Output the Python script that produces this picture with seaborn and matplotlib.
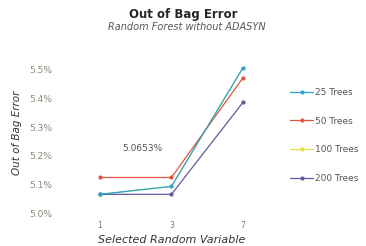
import pandas as pd
import matplotlib.pyplot as plt
import seaborn as sns
from matplotlib.ticker import FuncFormatter

# selected random variable (mtry) and OOB error (%) per forest size
variables = ['1', '3', '7']
trees_25 = [5.0653, 5.093, 5.507]
trees_50 = [5.124, 5.124, 5.472]
trees_100 = [5.0653, 5.093, 5.507]
trees_200 = [5.0653, 5.0653, 5.386]
series = ['25 Trees', '50 Trees', '100 Trees', '200 Trees']
colors = ['#2ba3d6', '#e0553c', '#e4df3c', '#5f5b9e']

rows = []
for name, vals in zip(series, [trees_25, trees_50, trees_100, trees_200]):
    for v, e in zip(variables, vals):
        rows.append({'Variable': v, 'Error': e, 'Trees': name})
df = pd.DataFrame(rows)

sns.set_style('white')
plt.rcParams['font.family'] = ['DejaVu Sans']

fig = plt.figure(figsize=(3.66, 2.46), dpi=100)
ax = fig.add_axes([0.234, 0.134, 0.469, 0.606])

sns.lineplot(data=df, x='Variable', y='Error', hue='Trees', hue_order=series,
             palette=colors, marker='o', markersize=3, markeredgewidth=0,
             linewidth=0.9, sort=False, ax=ax)

# 25 trees on top, the hidden 100 trees line underneath
for line, z in zip(ax.get_lines()[:4], [5, 4, 2, 3]):
    line.set_zorder(z)

ax.set_xlim(-0.2, 2.2)
ax.set_ylim(5.0, 5.52)
ax.set_yticks([5.0, 5.1, 5.2, 5.3, 5.4, 5.5])
ax.yaxis.set_major_formatter(FuncFormatter(lambda v, p: f'{v:.1f}%'))
ax.tick_params(axis='y', pad=24, labelsize=6.5, colors='#8a8a7a', length=0)
ax.tick_params(axis='x', pad=6, labelsize=5.5, colors='#777777', length=0)
for s in ax.spines.values():
    s.set_visible(False)

ax.set_xlabel('Selected Random Variable', fontsize=8, style='italic', color='#333333', labelpad=3)
ax.set_ylabel('Out of Bag Error', fontsize=7.5, style='italic', color='#333333')
ax.yaxis.set_label_coords(-0.37, 0.54)

ax.text(0.6, 5.225, '5.0653%', fontsize=6.5, color='#555555', ha='center', va='center')

fig.text(0.5, 0.94, 'Out of Bag Error', fontsize=8.5, fontweight='bold', ha='center', va='center')
fig.text(0.51, 0.89, 'Random Forest without ADASYN', fontsize=7, style='italic',
         color='#555555', ha='center', va='center')

leg = ax.legend(loc='center left', bbox_to_anchor=(0.77, 0.449), bbox_transform=fig.transFigure,
                frameon=False, fontsize=6.5, labelspacing=2.2, handlelength=2.6, handletextpad=0.2)
for t in leg.get_texts():
    t.set_color('#555555')

fig.savefig('out.png', dpi=100)
